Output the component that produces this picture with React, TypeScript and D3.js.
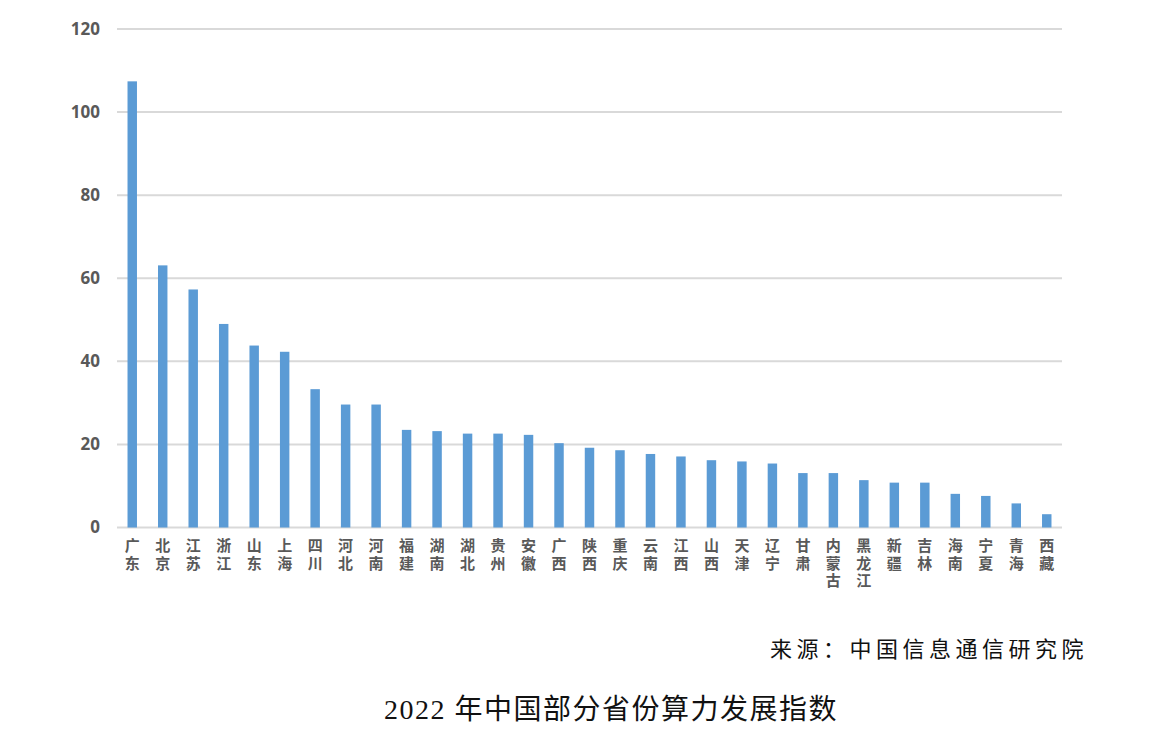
import React from "react";
import * as d3 from "d3";

const provinces = ["广东","北京","江苏","浙江","山东","上海","四川","河北","河南","福建","湖南","湖北","贵州","安徽","广西","陕西","重庆","云南","江西","山西","天津","辽宁","甘肃","内蒙古","黑龙江","新疆","吉林","海南","宁夏","青海","西藏"];
const values = [107.4,63.1,57.3,49.0,43.8,42.3,33.3,29.6,29.6,23.5,23.2,22.6,22.6,22.3,20.3,19.2,18.6,17.7,17.1,16.2,15.9,15.4,13.1,13.1,11.4,10.8,10.8,8.1,7.6,5.8,3.2];
const yTicks = [0,20,40,60,80,100,120];
const sourceText = "来源：中国信息通信研究院";
const titleText = "2022 年中国部分省份算力发展指数";

export default function App() {
  const W = 1167, H = 744;
  const x = d3.scaleBand<string>().domain(provinces).range([117, 1062]).paddingInner(0.69).paddingOuter(0.345);
  const y = d3.scaleLinear().domain([0, 120]).range([527.5, 29]);
  return (
    <svg width={W} height={H} style={{ position: "absolute", left: 0, top: 0, background: "#fff" }}>
      {yTicks.map(t => (
        <g key={t}>
          <line x1={117} x2={1062} y1={y(t)} y2={y(t)} stroke="#d9d9d9" strokeWidth={2} />
          <text x={100} y={y(t)} dy="0.35em" textAnchor="end" fontFamily="'Open Sans', 'Noto Sans', sans-serif" fontWeight={700} fontSize={17} fill="#595959">{t}</text>
        </g>
      ))}
      {provinces.map((p, i) => (
        <rect key={p} x={x(p)} y={y(values[i])} width={x.bandwidth()} height={y(0) - y(values[i])} fill="#5b9bd5" />
      ))}
      {provinces.map(p => (
        <text key={"l" + p} textAnchor="middle" fontFamily="'Noto Sans CJK SC', sans-serif" fontWeight={700} fontSize={15} fill="#595959">
          {Array.from(p).map((c, j) => (
            <tspan key={j} x={(x(p) as number) + x.bandwidth() / 2} y={551 + j * 17.5}>{c}</tspan>
          ))}
        </text>
      ))}
      <text x={1088} y={657} textAnchor="end" fontFamily="'Liberation Serif', 'Noto Sans CJK SC', serif" fontSize={22} letterSpacing={4.5} fill="#111">{sourceText}</text>
      <text x={611} y={719} textAnchor="middle" fontFamily="'Liberation Serif', 'Noto Sans CJK SC', serif" fontSize={28} letterSpacing={1.5} fill="#111">{titleText}</text>
    </svg>
  );
}
